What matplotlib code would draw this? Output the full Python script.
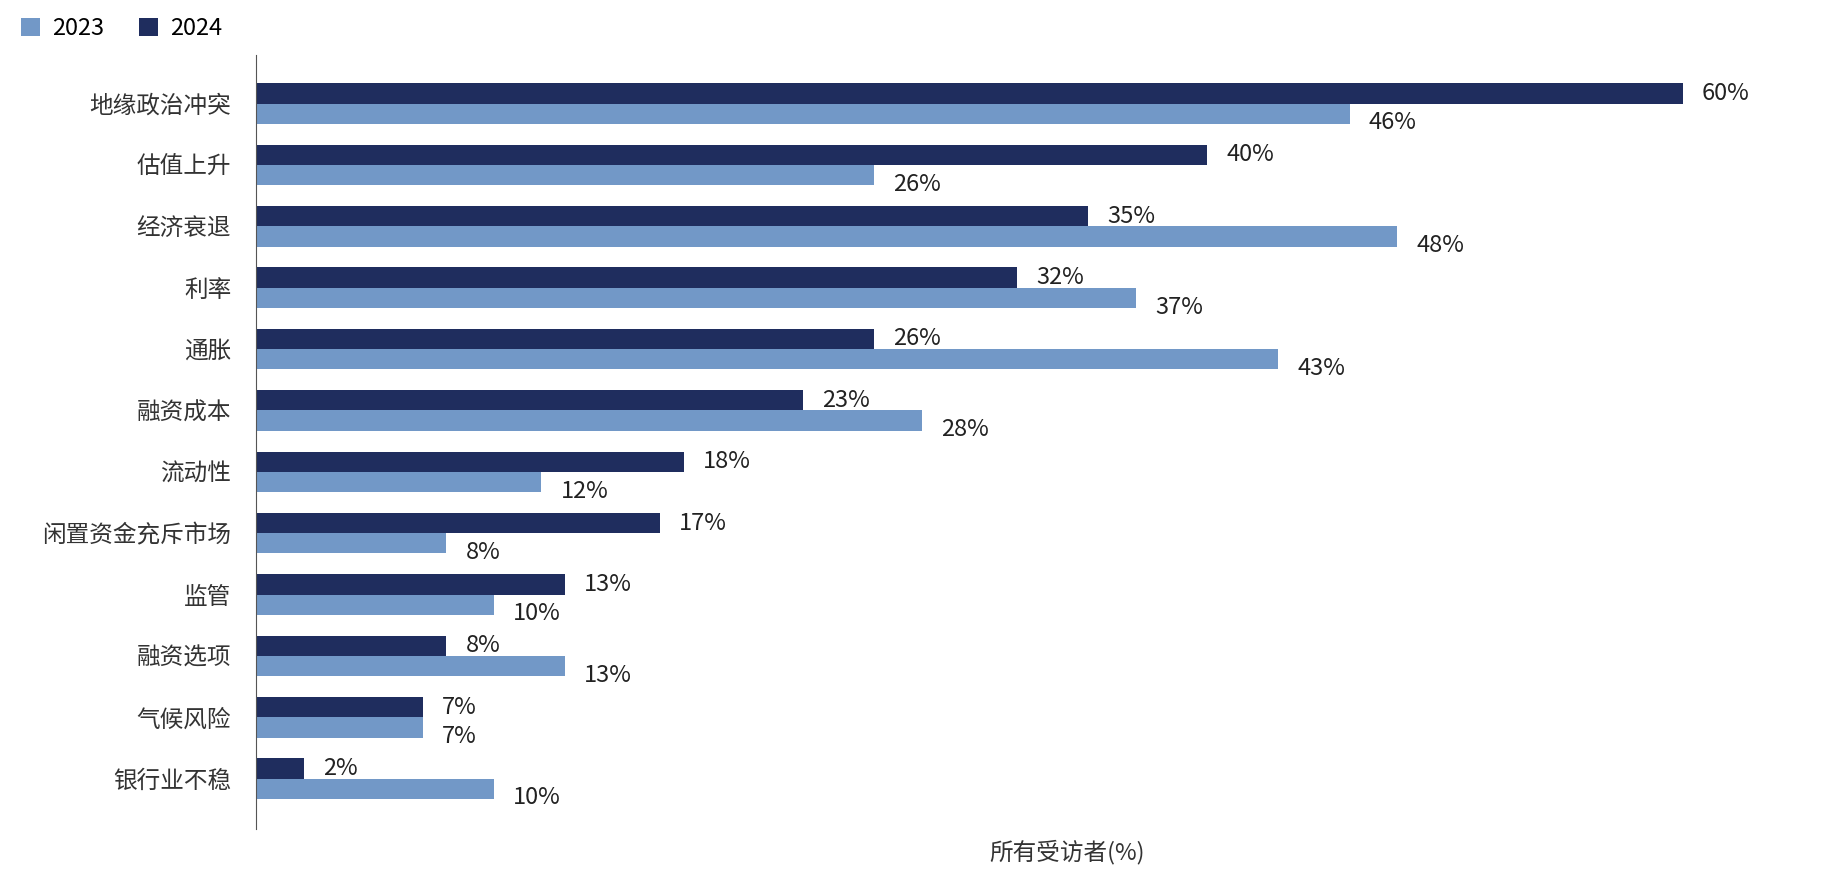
import matplotlib
matplotlib.use('Agg')
import matplotlib.pyplot as plt
import numpy as np

plt.rcParams['font.family'] = ['Noto Sans CJK SC', 'DejaVu Sans']

categories = ['地缘政治冲突', '估值上升', '经济衰退', '利率', '通胀', '融资成本',
              '流动性', '闲置资金充斥市场', '监管', '融资选项', '气候风险', '银行业不稳']
v2024 = [60, 40, 35, 32, 26, 23, 18, 17, 13, 8, 7, 2]
v2023 = [46, 26, 48, 37, 43, 28, 12, 8, 10, 13, 7, 10]

C23 = '#7298c7'
C24 = '#1f2d5e'

fig = plt.figure(figsize=(18.3, 8.8), dpi=100)
ax = fig.add_axes([0.14, 0.058, 0.86, 0.88])

y = np.arange(len(categories))
h = 0.33
ax.barh(y - h / 2, v2024, height=h, color=C24, label='2024')
ax.barh(y + h / 2, v2023, height=h, color=C23, label='2023')

for yi, a, b in zip(y, v2024, v2023):
    ax.text(a + 0.8, yi - h / 2, f'{a}%', va='center', ha='left', fontsize=17, color='#222222')
    ax.text(b + 0.8, yi + h / 2 + 0.15, f'{b}%', va='center', ha='left', fontsize=17, color='#222222')

ax.set_yticks(y)
ax.set_yticklabels(categories, fontsize=17, color='#333333')
ax.tick_params(axis='y', length=0, pad=18)
ax.set_xticks([])
ax.set_xlim(0, 66.2)
ax.set_ylim(11.82, -0.8)
for s in ['top', 'right', 'bottom']:
    ax.spines[s].set_visible(False)
ax.spines['left'].set_color('#555555')

fig.text(0.583, 0.018, '所有受访者(%)', ha='center', va='bottom', fontsize=17, color='#333333')

handles, labels = ax.get_legend_handles_labels()
fig.legend(handles[::-1], labels[::-1], loc='upper left', bbox_to_anchor=(0.0, 1.005),
           ncol=2, frameon=False, fontsize=17, handlelength=0.8, handleheight=0.8,
           columnspacing=1.5, handletextpad=0.5)

fig.savefig('out.png', dpi=100)
